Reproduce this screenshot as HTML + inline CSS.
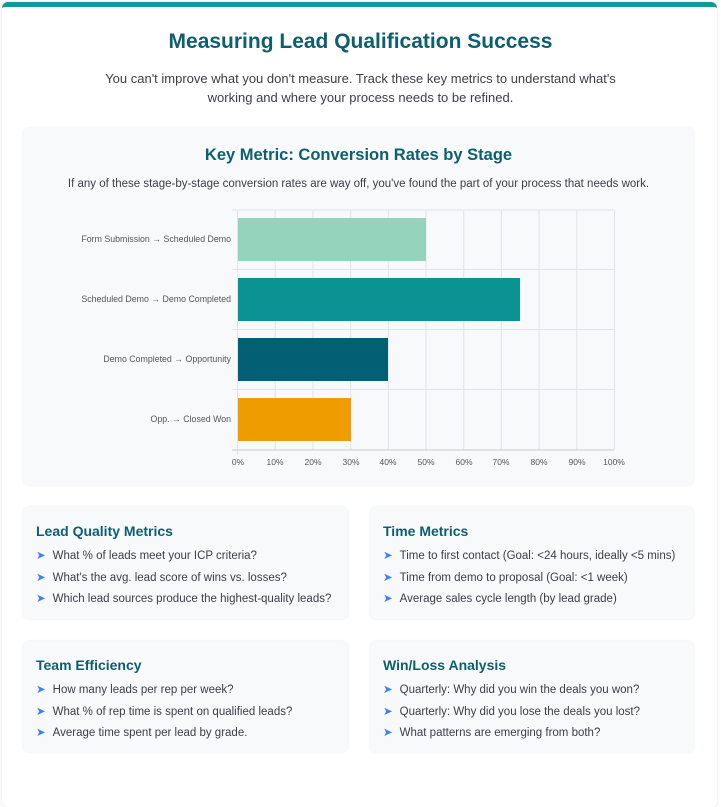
<!DOCTYPE html>
<html><head><meta charset="utf-8"><style>
body{margin:0;background:#fff;font-family:"Liberation Sans",sans-serif;width:721px;height:771px;overflow:hidden;position:relative}
.card{position:absolute;left:2px;top:2px;width:715px;height:800px;background:#fff;border-top:5px solid #11999a;border-radius:6px;box-shadow:0 0 3px rgba(0,0,0,.12)}
.abs{position:absolute}
h1{position:absolute;left:0;width:721px;top:30px;margin:0;text-align:center;font-size:21px;color:#0d5f6f;font-weight:bold}
.sub{left:90px;width:541px;top:69px;text-align:center;font-size:13px;line-height:19px;color:#3d3d4a}
.box{position:absolute;background:#f7f9fb;border-radius:6px;box-shadow:0 0 2px rgba(0,0,0,.1)}
h2{margin:0;position:absolute;left:0;width:100%;text-align:center;top:18px;font-size:16.5px;color:#0d5f6f}
.m h3{margin:0;font-size:14px;color:#0d5f6f;position:absolute;left:13px;top:16px}
.m ul{list-style:none;margin:0;padding:0;position:absolute;left:13px;top:41px}
.m li{font-size:11.5px;color:#3d3d4a;height:21.5px;white-space:nowrap}
.m li:before{content:"➤";color:#3b82f6;margin-right:7px}
.yl{position:absolute;right:490px;font-size:8.8px;color:#555;white-space:nowrap}
.xl{position:absolute;top:457px;font-size:8.5px;color:#555;width:30px;margin-left:-15px;text-align:center}
</style></head><body>
<div class="card"></div>
<h1>Measuring Lead Qualification Success</h1>
<div class="abs sub">You can't improve what you don't measure. Track these key metrics to understand what's working and where your process needs to be refined.</div>
<div class="box" style="left:23px;top:128px;width:671px;height:357px"><h2>Key Metric: Conversion Rates by Stage</h2>
<div class="abs" style="left:0;width:100%;top:50px;text-align:center;font-size:11.5px;color:#3d3d4a">If any of these stage-by-stage conversion rates are way off, you've found the part of your process that needs work.</div></div>
<svg class="abs" style="left:0;top:0" width="721" height="480">
<g stroke="#e2e4e8" stroke-width="1">
<line x1="237.5" y1="210" x2="237.5" y2="455"/><line x1="275.2" y1="210" x2="275.2" y2="450"/><line x1="312.9" y1="210" x2="312.9" y2="450"/><line x1="350.6" y1="210" x2="350.6" y2="450"/><line x1="388.3" y1="210" x2="388.3" y2="450"/><line x1="426" y1="210" x2="426" y2="450"/><line x1="463.7" y1="210" x2="463.7" y2="450"/><line x1="501.4" y1="210" x2="501.4" y2="450"/><line x1="539.1" y1="210" x2="539.1" y2="450"/><line x1="576.8" y1="210" x2="576.8" y2="450"/><line x1="614.5" y1="210" x2="614.5" y2="450"/>
<line x1="232" y1="210" x2="614" y2="210"/><line x1="232" y1="269.5" x2="614" y2="269.5"/><line x1="232" y1="329.5" x2="614" y2="329.5"/><line x1="232" y1="389.5" x2="614" y2="389.5"/><line x1="232" y1="450" x2="614" y2="450" stroke="#ccc"/>
</g>
<rect x="238" y="218" width="188" height="43" fill="#95d3bd"/>
<rect x="238" y="278" width="282" height="43" fill="#0b9394"/>
<rect x="238" y="338" width="150" height="43" fill="#035f73"/>
<rect x="238" y="398" width="113" height="43" fill="#ee9c00"/>
</svg>
<div class="yl" style="top:234px">Form Submission → Scheduled Demo</div>
<div class="yl" style="top:294px">Scheduled Demo → Demo Completed</div>
<div class="yl" style="top:354px">Demo Completed → Opportunity</div>
<div class="yl" style="top:414px">Opp. → Closed Won</div>
<div class="xl" style="left:238px">0%</div><div class="xl" style="left:275px">10%</div><div class="xl" style="left:313px">20%</div><div class="xl" style="left:351px">30%</div><div class="xl" style="left:388px">40%</div><div class="xl" style="left:426px">50%</div><div class="xl" style="left:464px">60%</div><div class="xl" style="left:501px">70%</div><div class="xl" style="left:539px">80%</div><div class="xl" style="left:577px">90%</div><div class="xl" style="left:614px">100%</div>
<div class="box m" style="left:23px;top:507px;width:325px;height:112px"><h3>Lead Quality Metrics</h3><ul><li>What % of leads meet your ICP criteria?</li><li>What's the avg. lead score of wins vs. losses?</li><li>Which lead sources produce the highest-quality leads?</li></ul></div>
<div class="box m" style="left:370px;top:507px;width:324px;height:112px"><h3>Time Metrics</h3><ul><li>Time to first contact (Goal: &lt;24 hours, ideally &lt;5 mins)</li><li>Time from demo to proposal (Goal: &lt;1 week)</li><li>Average sales cycle length (by lead grade)</li></ul></div>
<div class="box m" style="left:23px;top:641px;width:325px;height:111px"><h3>Team Efficiency</h3><ul><li>How many leads per rep per week?</li><li>What % of rep time is spent on qualified leads?</li><li>Average time spent per lead by grade.</li></ul></div>
<div class="box m" style="left:370px;top:641px;width:324px;height:111px"><h3>Win/Loss Analysis</h3><ul><li>Quarterly: Why did you win the deals you won?</li><li>Quarterly: Why did you lose the deals you lost?</li><li>What patterns are emerging from both?</li></ul></div>
</body></html>
